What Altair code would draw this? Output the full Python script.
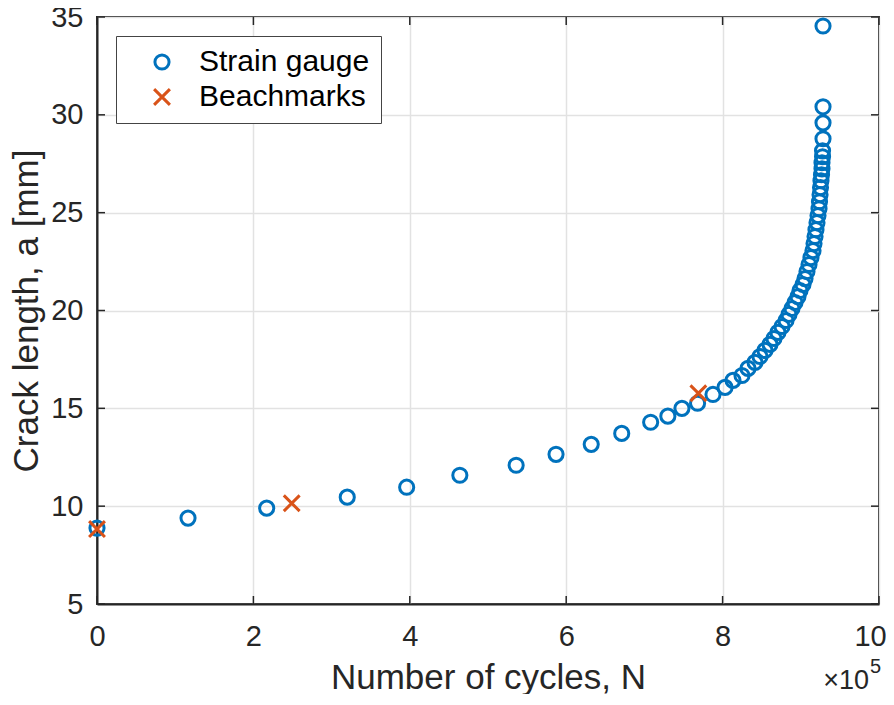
import altair as alt
import pandas as pd

# Strain gauge readings: cycles N and crack length a [mm]
sg_N = [0, 116400, 217000, 320000, 396000, 464000, 536000, 587000, 632000, 671000,
        708000, 730000, 748000, 768000, 787700, 803100, 813300, 824800, 832500, 841400,
        847800, 854200, 860600, 865700, 870800, 876000, 881100, 884900, 888700, 892600,
        896400, 899000, 902800, 905400, 907900, 910500, 913000, 915600, 916900, 918200,
        919400, 920700, 922000, 923300, 923900, 924600, 925200, 925800, 926500, 927100,
        927100, 927800, 927800, 928400, 928400, 928400, 928400]
sg_a = [8.88, 9.39, 9.90, 10.46, 10.97, 11.58, 12.09, 12.65, 13.16, 13.72,
        14.29, 14.60, 15.00, 15.26, 15.71, 16.07, 16.43, 16.68, 17.04, 17.35,
        17.65, 17.96, 18.27, 18.57, 18.88, 19.18, 19.49, 19.80, 20.10, 20.41,
        20.71, 21.02, 21.33, 21.63, 21.99, 22.35, 22.70, 23.06, 23.42, 23.78,
        24.13, 24.49, 24.85, 25.20, 25.56, 25.92, 26.28, 26.63, 26.94, 27.24,
        27.55, 27.86, 28.16, 28.78, 29.59, 30.41, 34.54]

# Beachmark measurements
bm_N = [0, 249000, 769000]
bm_a = [8.83, 10.15, 15.77]

series_names = ["Strain gauge", "Beachmarks"]
x_ticks = [0, 200000, 400000, 600000, 800000, 1000000]
y_ticks = [5, 10, 15, 20, 25, 30, 35]

W, H = 782, 587
FONT = "Liberation Sans"
AX = "#262626"

df = pd.DataFrame({
    "N": sg_N + bm_N,
    "a": sg_a + bm_a,
    "series": [series_names[0]] * len(sg_N) + [series_names[1]] * len(bm_N),
})
xt = pd.DataFrame({"v": x_ticks})
yt = pd.DataFrame({"v": y_ticks})

xscale = alt.Scale(domain=[0, 1000000], nice=False, zero=False)
yscale = alt.Scale(domain=[5, 35], nice=False, zero=False)


def leg():
    return alt.Legend(title=None, orient="none", legendX=19, legendY=19,
                      fillColor="white", strokeColor="#444444",
                      padding=11, symbolOffset=20, labelOffset=22,
                      rowPadding=5, symbolStrokeWidth=3, labelLimit=400,
                      labelFontSize=30, labelFont=FONT, labelColor="black")


points = alt.Chart(df).mark_point(filled=False, strokeWidth=3, opacity=1).encode(
    x=alt.X("N:Q", scale=xscale, title="Number of cycles, N",
            axis=alt.Axis(values=x_ticks, labelExpr="format(datum.value/100000, 'd')",
                          labelFlush=False, tickSize=0, grid=True,
                          labelOffset={"condition": {"test": "datum.value >= 1000000", "value": -9},
                                       "value": 0},
                          titlePadding=9, labelPadding=18)),
    y=alt.Y("a:Q", scale=yscale, title="Crack length, a [mm]",
            axis=alt.Axis(values=y_ticks, tickSize=0, grid=True,
                          titlePadding=6, labelPadding=14)),
    color=alt.Color("series:N", scale=alt.Scale(domain=series_names, range=["#0072BD", "#D95319"]),
                    legend=leg()),
    shape=alt.Shape("series:N", scale=alt.Scale(domain=series_names,
                                                range=["circle", "M-1,-1L1,1M-1,1L1,-1"]),
                    legend=leg()),
    size=alt.Size("series:N", scale=alt.Scale(domain=series_names, range=[200, 250]),
                  legend=leg()),
    order=alt.Order("order:Q"),
).transform_calculate(order="datum.series == 'Beachmarks' ? 1 : 0")

tl = 8
xb = alt.Chart(xt).mark_rule(color=AX, strokeWidth=1.5).encode(
    x=alt.X("v:Q", scale=xscale), y=alt.value(H), y2=alt.value(H - tl))
xtop = alt.Chart(xt).mark_rule(color=AX, strokeWidth=1.5).encode(
    x=alt.X("v:Q", scale=xscale), y=alt.value(0), y2=alt.value(tl))
yl = alt.Chart(yt).mark_rule(color=AX, strokeWidth=1.5).encode(
    y=alt.Y("v:Q", scale=yscale), x=alt.value(0), x2=alt.value(tl))
yr = alt.Chart(yt).mark_rule(color=AX, strokeWidth=1.5).encode(
    y=alt.Y("v:Q", scale=yscale), x=alt.value(W), x2=alt.value(W - tl))

mult = alt.Chart(pd.DataFrame({"t": ["\u00d710"]})).mark_text(
    font=FONT, fontSize=27, color=AX, align="right", baseline="alphabetic").encode(
    text="t:N", x=alt.value(W - 10), y=alt.value(H + 85))
exp = alt.Chart(pd.DataFrame({"t": ["5"]})).mark_text(
    font=FONT, fontSize=20, color=AX, align="left", baseline="alphabetic").encode(
    text="t:N", x=alt.value(W - 9), y=alt.value(H + 69))

chart = alt.layer(xb, xtop, yl, yr, points, mult, exp).properties(
    width=W, height=H,
    autosize=alt.AutoSizeParams(type="none"),
    padding={"left": 89, "top": 9, "right": 7, "bottom": 90},
).configure_view(stroke=AX, strokeWidth=2).configure_axis(
    labelFont=FONT, titleFont=FONT, labelFontSize=29, titleFontSize=35,
    labelColor=AX, titleColor=AX, titleFontWeight="normal",
    domainColor=AX, domainWidth=2, gridColor="#e2e2e2", gridWidth=1.5,
).configure_legend(symbolStrokeWidth=3)

chart.save("out.html", embed_options={"renderer": "svg", "actions": False})
